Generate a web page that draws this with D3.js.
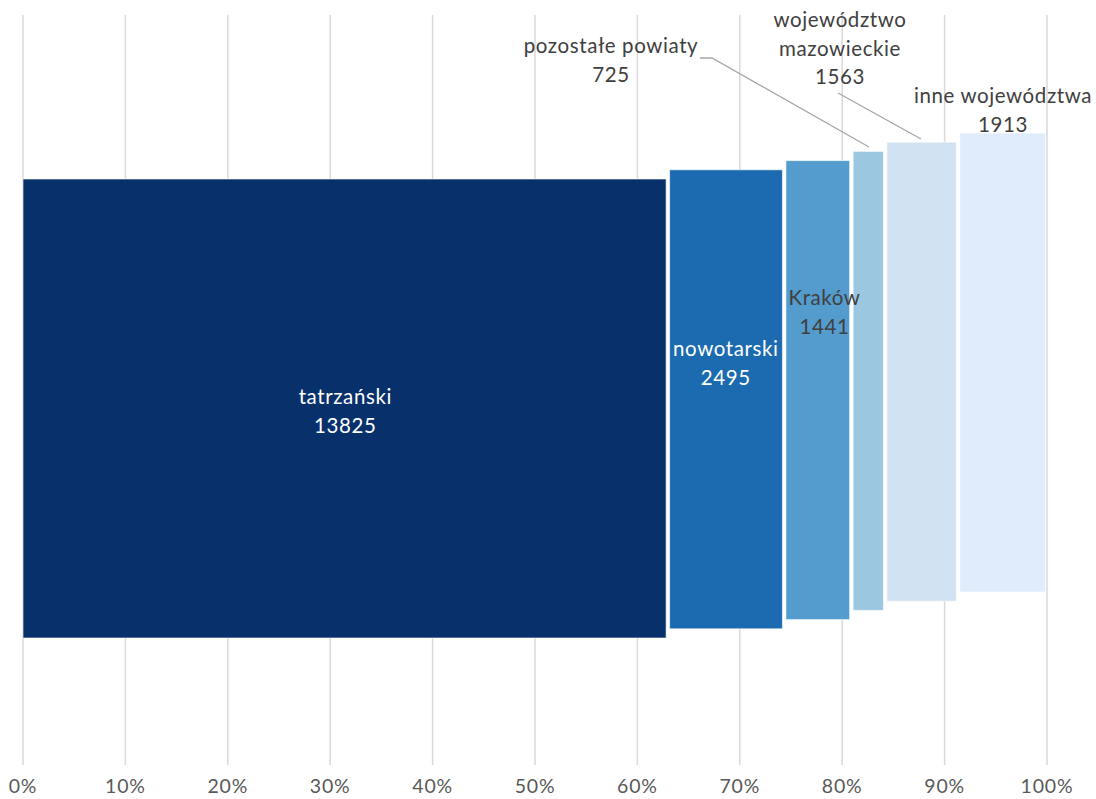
<!DOCTYPE html>
<html><head><meta charset="utf-8">
<script src="https://cdn.jsdelivr.net/npm/d3@7"></script>
<style>body{margin:0;background:#fff}svg{display:block}text{font-family:Lato,"Open Sans",Arial,sans-serif}</style>
</head><body><svg id="c" width="1096" height="799"></svg>
<script>
const categories = ["tatrzański","nowotarski","Kraków","pozostałe powiaty","województwo mazowieckie","inne województwa"];
const values = [13825,2495,1441,725,1563,1913];
const colors = ["#08306b","#1c6bb0","#539ccd","#9cc7e0","#d0e1f2","#e0ecfc"];
const tickLabels = ["0%","10%","20%","30%","40%","50%","60%","70%","80%","90%","100%"];

const svg = d3.select("#c");
const total = d3.sum(values);
const x = d3.scaleLinear().domain([0,1]).range([23,1047]);
const y = d3.scaleLinear().domain([0,1]).range([638,179]);
const step = 9.2;
let cum = 0;
const bars = values.map((v,i)=>{const s=cum/total; cum+=v; return {cat:categories[i],v,s,e:cum/total,i,c:colors[i]};});

// gridlines
svg.append("g").selectAll("line").data(d3.range(0,1.0001,0.1)).join("line")
  .attr("x1",d=>x(d)).attr("x2",d=>x(d)).attr("y1",15).attr("y2",765)
  .attr("stroke","#d9d9d9").attr("stroke-width",1.5);
svg.append("g").selectAll("text").data(tickLabels).join("text")
  .attr("x",(d,i)=>x(i/10)).attr("y",793).attr("text-anchor","middle")
  .attr("font-size",19.5).attr("letter-spacing",0.8).attr("fill","#595959").text(d=>d);

// bars
svg.append("g").selectAll("rect").data(bars).join("rect")
  .attr("x",d=>x(d.s)+(d.i?2:0)).attr("width",d=>x(d.e)-x(d.s)-(d.i?2:0)-1.5)
  .attr("y",d=>y(1)-d.i*step).attr("height",y(0)-y(1))
  .attr("fill",d=>d.c).attr("stroke","#fff").attr("stroke-opacity",0.6).attr("stroke-width",1);

// labels
const lab = [
  {lines:[categories[0],values[0]], cx:(x(bars[0].s)+x(bars[0].e))/2, y:404, fill:"#fff"},
  {lines:[categories[1],values[1]], cx:(x(bars[1].s)+x(bars[1].e))/2, y:356, fill:"#fff"},
  {lines:[categories[2],values[2]], cx:(x(bars[2].s)+x(bars[2].e))/2+7, y:305, fill:"#404040"},
  {lines:[categories[3],values[3]], cx:611, y:53, fill:"#404040"},
  {lines:["województwo","mazowieckie",values[4]], cx:840, y:27, fill:"#404040"},
  {lines:[categories[5],values[5]], cx:1003, y:103, fill:"#404040"}
];
const lg = svg.append("g");
lab.forEach(l=>{
  const t = lg.append("text").attr("text-anchor","middle").attr("font-size",20.5).attr("letter-spacing",0.6).attr("fill",l.fill);
  l.lines.forEach((s,k)=>t.append("tspan").attr("x",l.cx).attr("y",l.y+k*28.5).text(s));
});
// leader lines
const line = d3.line();
svg.append("path").attr("d",line([[700,58],[712,58],[869,147]])).attr("fill","none").attr("stroke","#a6a6a6").attr("stroke-width",1.3);
svg.append("path").attr("d",line([[838,93],[921,139]])).attr("fill","none").attr("stroke","#a6a6a6").attr("stroke-width",1.3);
</script></body></html>
